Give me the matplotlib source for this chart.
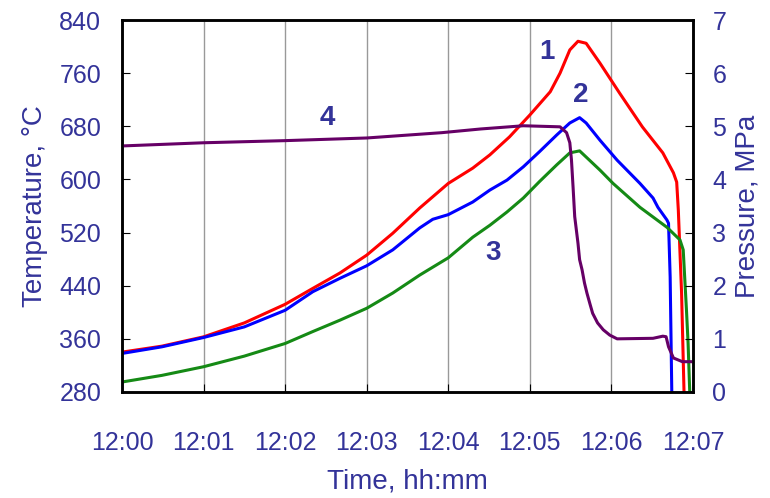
import numpy as np
import matplotlib
matplotlib.use('Agg')
import matplotlib.pyplot as plt

plt.rcParams['font.family'] = ['Liberation Sans', 'DejaVu Sans']

# time in minutes after 12:00
t1 = [0, 0.49, 1.0, 1.5, 2.0, 2.34, 2.67, 3.0, 3.32, 3.65, 4.0, 4.3, 4.51, 4.75, 5.0, 5.25, 5.37,
      5.49, 5.59, 5.69, 5.86, 6.1, 6.38, 6.63, 6.76, 6.8, 6.82, 6.86, 6.89]
T1 = [340, 349, 363, 384, 412, 436, 459, 486, 519, 557, 594, 617, 637, 664, 697, 732, 760,
      795, 808, 805, 775, 730, 679, 640, 610, 596, 554, 429, 280]

t2 = [0, 0.49, 1.0, 1.5, 2.0, 2.34, 2.67, 3.0, 3.32, 3.65, 3.81, 4.0, 4.3, 4.51, 4.72, 4.92, 5.12, 5.33,
      5.49, 5.61, 5.69, 5.86, 6.07, 6.35, 6.51, 6.57, 6.68, 6.7, 6.72, 6.74]
T2 = [338, 348, 362, 378, 403, 431, 451, 470, 494, 527, 540, 547, 566, 584, 599, 619, 642, 667,
      685, 693, 685, 659, 629, 594, 572, 558, 539, 534, 453, 280]

t3 = [0, 0.49, 1.0, 1.5, 2.0, 2.34, 2.67, 3.0, 3.32, 3.65, 4.0, 4.3, 4.51, 4.72, 4.92, 5.12, 5.33, 5.49,
      5.61, 5.86, 6.02, 6.35, 6.68, 6.84, 6.88, 6.92, 6.94, 6.96]
T3 = [295, 305, 318, 334, 353, 371, 388, 406, 429, 456, 482, 513, 531, 551, 572, 597, 622, 640,
      643, 614, 594, 558, 528, 509, 494, 403, 353, 280]

t4 = [0, 1.0, 2.0, 3.0, 3.92, 4.4, 4.92, 5.37, 5.45, 5.49, 5.51, 5.53, 5.55, 5.59, 5.61, 5.64, 5.67,
      5.70, 5.74, 5.77, 5.83, 5.90, 5.98, 6.07, 6.51, 6.63, 6.67, 6.70, 6.76, 6.87, 7.0]
P4 = [4.63, 4.69, 4.73, 4.78, 4.88, 4.95, 5.01, 4.99, 4.88, 4.69, 4.37, 3.85, 3.30, 2.80, 2.49, 2.30,
      2.05, 1.86, 1.64, 1.48, 1.30, 1.17, 1.07, 1.00, 1.01, 1.05, 1.04, 0.85, 0.64, 0.57, 0.57]

xlabels = ['12:00', '12:01', '12:02', '12:03', '12:04', '12:05', '12:06', '12:07']
txt = '#333399'

fig = plt.figure(figsize=(7.7, 4.98), dpi=100)
ax = fig.add_axes([0.1584, 0.2129, 0.7416, 0.7469])
ax2 = ax.twinx()

ax.plot(t1, T1, color='#ff0000', lw=2.2)
ax.plot(t2, T2, color='#0000ff', lw=2.2)
ax.plot(t3, T3, color='#158a15', lw=2.2)
ax2.plot(t4, P4, color='#660066', lw=2.2)

ax.set_xlim(0, 7)
ax.set_ylim(280, 840)
ax2.set_ylim(0, 7)
ax.set_xticks(range(8))
ax.set_xticklabels(xlabels)
ax.set_yticks(range(280, 841, 80))
ax2.set_yticks(range(0, 8))
ax.grid(axis='x', color='#999999', lw=1)

ax.tick_params(axis='x', direction='in', length=6, pad=28, labelsize=18, labelcolor=txt)
ax.tick_params(axis='y', direction='in', length=6, pad=15, labelsize=18, labelcolor=txt)
ax2.tick_params(axis='y', direction='in', length=6, pad=14, labelsize=18, labelcolor=txt)
for a in (ax, ax2):
    for s in a.spines.values():
        s.set_linewidth(1.8)

ax.set_xlabel('Time, hh:mm', fontsize=20, color=txt, labelpad=10)
ax.set_ylabel('Temperature, °C', fontsize=20, color=txt, labelpad=8)
ax2.set_ylabel('Pressure, MPa', fontsize=20, color=txt, labelpad=6)

for s, xx, yy in [('1', 5.21, 792), ('2', 5.62, 727), ('3', 4.55, 489), ('4', 2.52, 692)]:
    ax.text(xx, yy, s, fontsize=20, fontweight='bold', color=txt, ha='center', va='center')

fig.savefig('out.png', dpi=100)
